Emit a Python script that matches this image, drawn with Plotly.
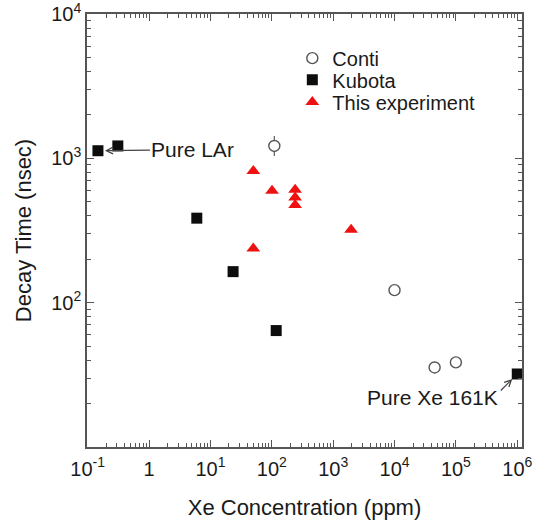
import numpy as np
import plotly.graph_objects as go

# ---- data ----
conti_x = [110, 1.0e4, 4.5e4, 1.0e5]
conti_y = [1220, 122, 35.5, 38.5]
conti_err_plus = [210, 0, 0, 0]
conti_err_minus = [180, 0, 0, 0]

kubota_x = [0.147, 0.31, 6.0, 23.4, 118, 1.0e6]
kubota_y = [1130, 1220, 385, 164, 64, 32]

exp_x = [50, 50, 101, 240, 240, 240, 1960]
exp_y = [818, 237, 596, 605, 536, 475, 320]

x_tick_vals = [0.1, 1, 10, 100, 1e3, 1e4, 1e5, 1e6]
x_tick_text = ["10<sup>-1</sup>", "1", "10<sup>1</sup>", "10<sup>2</sup>",
               "10<sup>3</sup>", "10<sup>4</sup>", "10<sup>5</sup>", "10<sup>6</sup>"]
y_tick_vals = [100, 1000, 10000]
y_tick_text = ["10<sup>2</sup>", "10<sup>3</sup>", "10<sup>4</sup>"]

FONT = "Liberation Sans, Arial, Helvetica, sans-serif"
TXT = "#1a1a1a"
AX = "#555555"

fig = go.Figure()

fig.add_trace(go.Scatter(
    x=conti_x, y=conti_y, mode="markers", name="Conti", legend="legend",
    marker=dict(symbol="circle", size=11, color="white",
                line=dict(color="#555555", width=1.4)),
    error_y=dict(type="data", symmetric=False, array=conti_err_plus,
                 arrayminus=conti_err_minus, color="#666666", thickness=1.3, width=0),
))
fig.add_trace(go.Scatter(
    x=kubota_x, y=kubota_y, mode="markers", name="Kubota", legend="legend2",
    marker=dict(symbol="square", size=11, color="#0d0d0d", line=dict(width=0)),
))
fig.add_trace(go.Scatter(
    x=exp_x, y=exp_y, mode="markers", name="This experiment", legend="legend3",
    marker=dict(symbol="triangle-up", size=12, color="#ee1111", line=dict(width=0)),
))

axis_common = dict(
    type="log", showline=True, linecolor=AX, linewidth=1.5, mirror="allticks",
    ticks="inside", ticklen=7, tickwidth=1.2, tickcolor=AX,
    showgrid=False, zeroline=False, automargin=False,
    ticklabeloverflow="allow",
    tickfont=dict(family=FONT, size=20, color=TXT),
    minor=dict(ticks="inside", ticklen=4, tickwidth=1, tickcolor=AX,
               dtick="D1", showgrid=False),
)

fig.update_xaxes(
    **axis_common, range=[-1.011, 6.077],
    tickvals=x_tick_vals, ticktext=x_tick_text, ticklabelstandoff=3,
    title=dict(text="Xe Concentration (ppm)", standoff=28,
               font=dict(family=FONT, size=22, color=TXT)),
)
fig.update_yaxes(
    **axis_common, range=[0.999, 4.001],
    tickvals=y_tick_vals, ticktext=y_tick_text,
    title=dict(text="Decay Time (nsec)", standoff=14,
               font=dict(family=FONT, size=22, color=TXT)),
)

leg_common = dict(font=dict(family=FONT, size=20, color=TXT),
                  bgcolor="rgba(0,0,0,0)", xanchor="left", yanchor="middle",
                  x=0.472, itemclick=False)
fig.update_layout(
    legend=dict(**leg_common, y=0.898),
    legend2=dict(**leg_common, y=0.848),
    legend3=dict(**leg_common, y=0.797),
)

# annotations
fig.add_annotation(
    x=np.log10(kubota_x[0]), y=np.log10(kubota_y[0]), xref="x", yref="y",
    text="Pure LAr", showarrow=True, axref="pixel", ayref="pixel",
    ax=95, ay=-1, standoff=7, arrowhead=5, arrowsize=1.1, arrowwidth=1.2,
    arrowcolor="#444444", font=dict(family=FONT, size=21, color=TXT),
)
fig.add_annotation(
    x=np.log10(kubota_x[-1]), y=np.log10(kubota_y[-1]), xref="x", yref="y",
    text="", showarrow=True, axref="pixel", ayref="pixel",
    ax=-18, ay=18, standoff=7, arrowhead=5, arrowsize=1.1, arrowwidth=1.2,
    arrowcolor="#444444",
)
fig.add_annotation(
    x=np.log10(kubota_x[-1]), y=np.log10(kubota_y[-1]), xref="x", yref="y",
    text="Pure Xe 161K", showarrow=False, xanchor="right", yanchor="middle",
    xshift=-17, yshift=-24, font=dict(family=FONT, size=21, color=TXT),
)

fig.update_layout(
    width=541, height=520,
    margin=dict(l=87, r=19, t=14, b=73),
    paper_bgcolor="white", plot_bgcolor="white",
    font=dict(family=FONT, size=20, color=TXT),
    showlegend=True,
)

fig.write_html("out.html")
